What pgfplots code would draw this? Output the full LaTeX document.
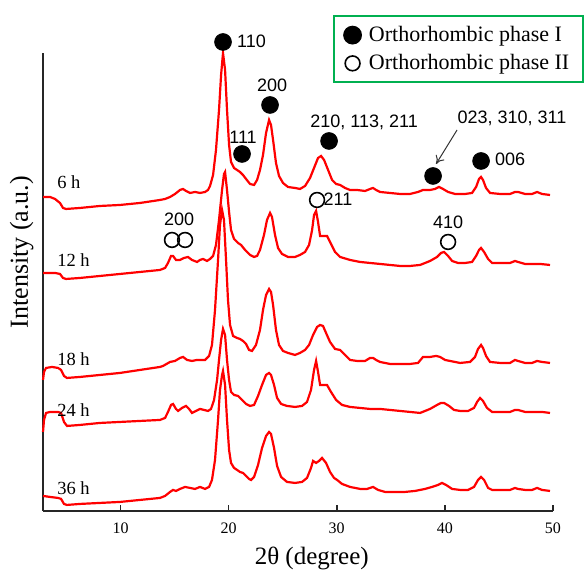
\documentclass[border=0pt]{standalone}
\usepackage{fontspec}
\setmainfont{Liberation Serif}
\newfontfamily\arialfont{Liberation Sans}
\usepackage{pgfplots}
\pgfplotsset{compat=1.18}
\usetikzlibrary{arrows.meta}
\definecolor{xrdred}{RGB}{255,0,0}
\definecolor{lgreen}{RGB}{0,176,80}

% XRD patterns, intensity in arbitrary units (offset per sample)
\pgfplotstableread{
x y
2.83 314
3.48 314
3.94 312
4.40 308
4.68 303
4.96 302
6.25 303
8.10 305
9.95 306
11.80 308
13.65 311
14.12 312
14.58 314
15.04 317
15.50 321
15.78 322
16.06 320
16.43 318
16.89 319
17.35 318
17.82 319
18.09 321
18.28 325
18.56 336
18.83 361
19.11 401
19.30 436
19.48 458
19.67 441
19.85 401
20.04 366
20.22 349
20.50 343
20.78 341
21.05 339
21.33 336
21.61 332
21.98 327
22.35 326
22.63 331
22.90 341
23.18 356
23.46 378
23.74 391
23.92 386
24.11 371
24.38 348
24.66 335
25.03 328
25.49 324
26.14 323
26.60 322
27.07 325
27.53 333
27.90 343
28.27 353
28.55 355
28.83 351
29.20 341
29.57 331
29.94 327
30.31 326
30.77 323
31.23 321
31.88 321
32.62 320
33.08 322
33.36 323
33.64 321
34.01 319
34.93 318
35.86 317
36.78 317
37.52 319
37.98 321
38.63 321
39.09 322
39.46 324
39.83 322
40.30 319
40.94 317
41.87 317
42.52 318
42.89 324
43.16 332
43.35 334
43.53 331
43.81 323
44.18 318
45.11 317
46.03 317
46.49 319
46.77 319
47.42 317
48.07 317
48.53 319
48.99 317
49.73 316
}\sixh

\pgfplotstableread{
x y
2.83 238
3.94 238
4.40 237
4.68 233
4.96 232
6.25 233
8.10 235
9.95 237
11.80 239
13.65 241
14.12 243
14.39 248
14.67 255
14.86 255
15.13 251
15.50 251
15.87 253
16.24 254
16.61 251
17.08 249
17.35 251
17.63 252
18.00 250
18.28 252
18.56 255
18.83 266
19.11 291
19.39 321
19.57 337
19.67 339
19.85 321
20.04 299
20.22 281
20.50 272
20.87 268
21.15 266
21.52 261
21.98 256
22.35 254
22.63 255
22.90 261
23.27 276
23.55 291
23.83 298
24.01 294
24.29 276
24.57 263
24.94 257
25.49 254
26.14 254
26.60 256
27.07 259
27.44 266
27.72 281
27.90 296
28.09 300
28.27 289
28.46 275
28.83 275
29.10 275
29.38 269
29.84 259
30.31 254
31.23 251
32.16 249
33.08 248
34.01 247
34.93 246
35.86 245
36.78 245
37.71 246
38.63 250
39.28 254
39.65 258
39.93 259
40.30 255
40.67 250
41.22 248
41.87 248
42.52 249
42.89 255
43.16 261
43.35 263
43.63 259
44.00 252
44.37 248
45.11 248
46.03 248
46.49 250
46.77 249
47.42 247
48.34 247
48.81 247
49.73 246
}\twelveh

\pgfplotstableread{
x y
2.83 131
2.92 139
3.11 143
3.66 144
4.22 143
4.50 141
4.77 135
5.05 133
6.25 134
8.10 136
9.95 138
11.80 141
13.65 144
13.93 145
14.58 149
15.04 150
15.50 153
15.78 154
16.15 151
16.61 150
17.08 151
17.82 151
18.19 155
18.46 166
18.74 201
19.02 251
19.20 286
19.39 301
19.57 291
19.76 251
19.94 211
20.13 186
20.41 175
20.78 173
21.05 172
21.33 170
21.61 167
21.89 161
22.16 160
22.53 166
22.90 181
23.18 201
23.46 216
23.74 222
23.92 219
24.11 206
24.38 181
24.66 166
25.03 160
25.49 158
26.14 156
26.60 158
27.07 161
27.44 166
27.81 176
28.18 184
28.46 186
28.73 185
29.01 178
29.38 169
29.84 162
30.31 161
30.77 156
31.23 151
31.88 150
32.62 150
33.08 153
33.36 153
33.64 151
34.01 149
34.93 147
35.86 147
36.78 147
37.52 148
37.98 154
38.63 154
39.19 155
39.56 154
40.02 151
40.48 150
41.41 148
42.33 149
42.79 154
43.07 162
43.35 166
43.53 163
43.81 155
44.18 149
45.11 148
46.03 148
46.49 151
46.77 150
47.42 148
48.07 148
48.53 150
48.99 149
49.73 148
}\eighteenh

\pgfplotstableread{
x y
2.83 79
2.92 91
3.11 98
3.48 99
4.22 99
4.50 98
4.77 89
5.05 85
6.25 86
8.10 88
9.95 89
11.80 90
13.65 91
14.12 93
14.39 99
14.67 106
14.86 107
15.13 102
15.32 100
15.69 103
16.06 105
16.34 102
16.61 98
16.98 100
17.35 102
17.72 101
18.09 100
18.37 102
18.65 111
18.93 131
19.11 151
19.30 171
19.48 182
19.67 176
19.85 151
20.04 131
20.22 119
20.50 116
20.87 115
21.24 111
21.61 107
21.98 105
22.35 106
22.72 115
23.09 126
23.46 136
23.74 138
23.92 136
24.20 126
24.48 113
24.85 107
25.40 105
26.14 104
26.79 105
27.25 109
27.62 121
27.90 141
28.09 150
28.27 139
28.46 126
28.83 126
29.10 126
29.47 119
29.94 111
30.49 106
31.23 104
32.16 103
33.08 102
34.01 102
34.93 101
35.86 100
36.78 99
37.71 98
38.63 102
39.28 106
39.65 108
39.93 108
40.39 105
40.85 101
41.41 100
42.15 100
42.70 103
42.98 109
43.26 113
43.53 110
43.90 103
44.37 99
45.11 99
46.03 99
46.49 101
46.77 101
47.42 99
48.34 99
48.99 99
49.73 98
}\twentyfourh

\pgfplotstableread{
x y
2.83 15
3.48 14
4.22 13
4.50 12
4.77 7
5.05 6
6.25 7
8.10 8
9.95 9
11.80 11
13.65 13
14.12 15
14.58 19
14.86 21
15.13 20
15.50 22
15.97 24
16.43 23
16.89 22
17.35 24
17.82 22
18.19 24
18.46 31
18.74 51
19.02 91
19.20 121
19.39 136
19.48 140
19.67 126
19.85 91
20.04 61
20.22 48
20.50 43
20.78 41
21.05 39
21.33 38
21.61 35
21.89 32
22.07 31
22.35 34
22.72 46
23.09 63
23.46 75
23.74 79
23.92 77
24.20 63
24.48 45
24.85 34
25.40 29
26.14 28
26.79 29
27.25 33
27.62 43
27.81 50
28.09 48
28.36 50
28.64 53
29.01 48
29.38 39
29.75 33
30.03 31
30.49 27
31.23 24
32.16 22
32.80 22
33.36 24
33.82 21
34.47 19
35.39 19
36.32 19
37.24 20
38.17 22
38.82 24
39.37 26
39.74 28
40.11 26
40.67 22
41.41 21
42.15 21
42.70 24
43.07 31
43.35 34
43.63 31
44.00 23
44.37 21
45.11 21
46.03 21
46.49 23
46.77 22
47.42 21
48.07 21
48.53 23
48.99 21
49.73 20
}\thirtysixh

\begin{document}
\begin{tikzpicture}
\begin{axis}[
    width=255pt, height=229pt, scale only axis,
    xmin=2.83, xmax=50, ymin=0, ymax=458,
    axis x line=bottom, axis y line=left,
    axis line style={-, line width=0.8pt, black!85},
    xtick={10,20,30,40,50}, ytick=\empty,
    tick align=inside, major tick length=3pt,
    tick style={line width=0.8pt, black!85},
    tick label style={font=\fontsize{8}{8}\selectfont},
    xticklabel style={yshift=-2.5pt},
    /pgf/number format/assume math mode=true,
    xlabel={2θ (degree)},
    xlabel style={at={(rel axis cs:0.527,0)}, anchor=center, yshift=-24pt, font=\fontsize{12.5}{13}\selectfont},
    ylabel={Intensity (a.u.)},
    ylabel style={at={(rel axis cs:-0.042,0.565)}, anchor=center, font=\fontsize{13}{14}\selectfont},
    clip=false,
    legend style={at={(rel axis cs:0.569,1.083)}, anchor=north west,
        draw=lgreen, line width=1pt, font=\fontsize{11}{12}\selectfont,
        inner xsep=5pt, inner ysep=3pt, row sep=1pt, column sep=2pt},
    legend cell align=left,
]
\addplot[xrdred, line width=1.1pt, forget plot] table {\sixh};
\addplot[xrdred, line width=1.1pt, forget plot] table {\twelveh};
\addplot[xrdred, line width=1.1pt, forget plot] table {\eighteenh};
\addplot[xrdred, line width=1.1pt, forget plot] table {\twentyfourh};
\addplot[xrdred, line width=1.1pt, forget plot] table {\thirtysixh};

% phase I reflections
\addplot[only marks, mark=*, mark size=4.2pt, black] coordinates {
    (19.48,469) (23.83,406) (21.24,357) (29.29,370) (38.91,335) (43.35,350)
};
\addlegendentry{Orthorhombic phase I}
% phase II reflections
\addplot[only marks, mark=o, mark size=3.7pt, black, mark options={line width=0.8pt}] coordinates {
    (14.76,271) (15.97,271) (28.18,311) (40.30,269)
};
\addlegendentry{Orthorhombic phase II}

\begin{scope}[font=\arialfont\fontsize{9}{10}\selectfont]
\node[anchor=west] at (axis cs:20.14,470) {110};
\node at (axis cs:24.02,426) {200};
\node at (axis cs:21.33,374) {111};
\node at (axis cs:32.53,389) {210, 113, 211};
\node at (axis cs:46.21,393) {023, 310, 311};
\node[anchor=west] at (axis cs:44.0,352) {006};
\node[anchor=west, inner sep=0pt] at (axis cs:28.75,312) {211};
\node at (axis cs:40.30,289) {410};
\node at (axis cs:15.41,292) {200};
\end{scope}
\draw[-{To[length=4pt,width=5pt]}, black!80, line width=0.5pt] (axis cs:41.13,381) -- (axis cs:39.19,347);

\begin{scope}[font=\fontsize{9.25}{10}\selectfont]
\node[anchor=west] at (axis cs:3.5,329) {6 h};
\node[anchor=west] at (axis cs:3.5,251) {12 h};
\node[anchor=west] at (axis cs:3.5,152) {18 h};
\node[anchor=west] at (axis cs:3.5,101) {24 h};
\node[anchor=west] at (axis cs:3.5,23) {36 h};
\end{scope}

\coordinate (bbTL) at (axis cs:-1.15,511);
\coordinate (bbBR) at (axis cs:53.15,-59);
\end{axis}
\path (bbTL) rectangle (bbBR);
\end{tikzpicture}
\end{document}
